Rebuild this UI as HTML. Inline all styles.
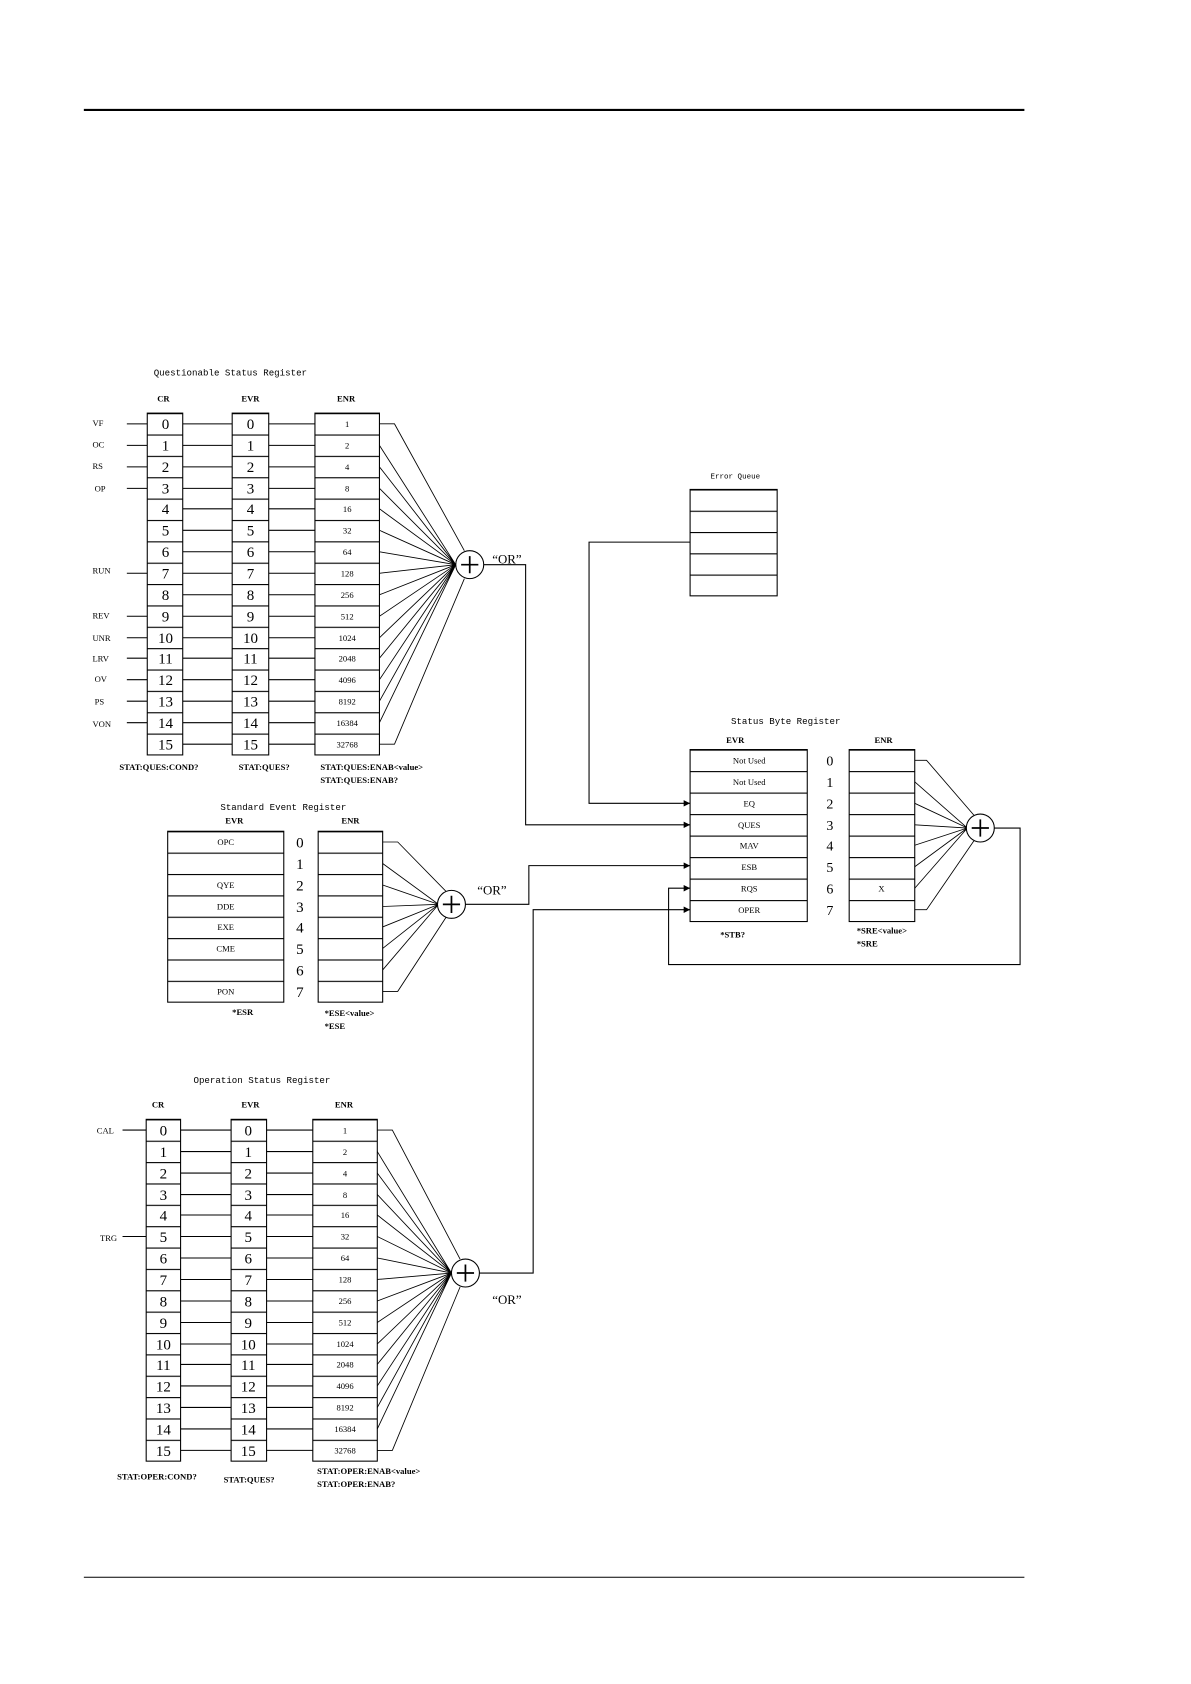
<!DOCTYPE html>
<html><head><meta charset="utf-8"><style>
html,body{margin:0;padding:0;background:#fff;}
svg{display:block}
text{font-family:"Liberation Serif",serif;fill:#000}
.n{font-size:14px;text-anchor:middle}
.s{font-size:8px;text-anchor:middle}
.l{font-size:8px}
.h{font-size:8px;font-weight:bold;text-anchor:middle}
.t{font-size:8.5px;font-family:"Liberation Mono",monospace}
.b{font-size:8px;font-weight:bold}
</style></head><body>
<svg width="1191" height="1684" viewBox="0 0 1108 1566" xmlns="http://www.w3.org/2000/svg">
<defs>
<pattern id="pq" patternUnits="userSpaceOnUse" x="0" y="384" width="1108" height="19.875"><line x1="0" y1="0.5" x2="1108" y2="0.5" stroke="#000" stroke-width="1"/></pattern>
<pattern id="po" patternUnits="userSpaceOnUse" x="0" y="1041" width="1108" height="19.875"><line x1="0" y1="0.5" x2="1108" y2="0.5" stroke="#000" stroke-width="1"/></pattern>
<pattern id="pe" patternUnits="userSpaceOnUse" x="0" y="773" width="1108" height="19.875"><line x1="0" y1="0.5" x2="1108" y2="0.5" stroke="#000" stroke-width="1"/></pattern>
<pattern id="pb" patternUnits="userSpaceOnUse" x="0" y="697" width="1108" height="20"><line x1="0" y1="0.5" x2="1108" y2="0.5" stroke="#000" stroke-width="1"/></pattern>
<pattern id="pz" patternUnits="userSpaceOnUse" x="0" y="455" width="1108" height="19.8"><line x1="0" y1="0.5" x2="1108" y2="0.5" stroke="#000" stroke-width="1"/></pattern>
<marker id="ar" markerWidth="6" markerHeight="6" refX="6" refY="3" orient="auto" markerUnits="userSpaceOnUse"><path d="M0,0 L6,3 L0,6 z" fill="#000"/></marker>
</defs>
<g stroke="#000" fill="none">
<line x1="78" y1="102" x2="953" y2="102" stroke-width="2"/>
<line x1="78" y1="1467" x2="953" y2="1467" stroke-width="1"/>
</g>

<!-- Questionable -->
<text class="t" x="143" y="349">Questionable Status Register</text>
<text class="h" x="152" y="373">CR</text><text class="h" x="233" y="373">EVR</text><text class="h" x="322" y="373">ENR</text>
<g stroke="#000" stroke-width="1">
<rect x="137" y="384" width="33" height="318" fill="url(#pq)"/>
<rect x="216" y="384" width="34" height="318" fill="url(#pq)"/>
<rect x="293" y="384" width="60" height="318" fill="url(#pq)"/>
<path fill="none" d="M118 394H137M118 414H137M118 434H137M118 454H137M118 533H137M118 573H137M118 593H137M118 612H137M118 632H137M118 652H137M118 672H137
M170 394H216M170 414H216M170 434H216M170 454H216M170 473H216M170 493H216M170 513H216M170 533H216M170 553H216M170 573H216M170 593H216M170 612H216M170 632H216M170 652H216M170 672H216M170 692H216
M250 394H293M250 414H293M250 434H293M250 454H293M250 473H293M250 493H293M250 513H293M250 533H293M250 553H293M250 573H293M250 593H293M250 612H293M250 632H293M250 652H293M250 672H293M250 692H293"/>
<path fill="none" stroke-width="0.8" d="M353 394H367L432 512M353 692H367L432 538M353 414L424 525M353 434L424 525M353 454L424 525M353 473L424 525M353 493L424 525M353 513L424 525M353 533L424 525M353 553L424 525M353 573L424 525M353 593L424 525M353 612L424 525M353 632L424 525M353 652L424 525M353 672L424 525"/>
<circle cx="437" cy="525" r="13" fill="#fff"/>
<path d="M437 517V533M429 525H445" stroke-width="1.6"/>
<path fill="none" d="M450 525H489V767H642" marker-end="url(#ar)"/>
</g>
<text class="l" x="86" y="396">VF</text><text class="l" x="86" y="416">OC</text><text class="l" x="86" y="436">RS</text><text class="l" x="88" y="457">OP</text>
<text class="l" x="86" y="533">RUN</text><text class="l" x="86" y="575">REV</text><text class="l" x="86" y="596">UNR</text><text class="l" x="86" y="615">LRV</text><text class="l" x="88" y="634">OV</text><text class="l" x="88" y="655">PS</text><text class="l" x="86" y="676">VON</text>
<g class="n">
<text class="n" x="154" y="399">0</text><text class="n" x="154" y="419">1</text><text class="n" x="154" y="439">2</text><text class="n" x="154" y="459">3</text><text class="n" x="154" y="478">4</text><text class="n" x="154" y="498">5</text><text class="n" x="154" y="518">6</text><text class="n" x="154" y="538">7</text><text class="n" x="154" y="558">8</text><text class="n" x="154" y="578">9</text><text class="n" x="154" y="598">10</text><text class="n" x="154" y="617">11</text><text class="n" x="154" y="637">12</text><text class="n" x="154" y="657">13</text><text class="n" x="154" y="677">14</text><text class="n" x="154" y="697">15</text>
<text class="n" x="233" y="399">0</text><text class="n" x="233" y="419">1</text><text class="n" x="233" y="439">2</text><text class="n" x="233" y="459">3</text><text class="n" x="233" y="478">4</text><text class="n" x="233" y="498">5</text><text class="n" x="233" y="518">6</text><text class="n" x="233" y="538">7</text><text class="n" x="233" y="558">8</text><text class="n" x="233" y="578">9</text><text class="n" x="233" y="598">10</text><text class="n" x="233" y="617">11</text><text class="n" x="233" y="637">12</text><text class="n" x="233" y="657">13</text><text class="n" x="233" y="677">14</text><text class="n" x="233" y="697">15</text>
</g>
<text class="s" x="323" y="397">1</text><text class="s" x="323" y="417">2</text><text class="s" x="323" y="437">4</text><text class="s" x="323" y="457">8</text><text class="s" x="323" y="476">16</text><text class="s" x="323" y="496">32</text><text class="s" x="323" y="516">64</text><text class="s" x="323" y="536">128</text><text class="s" x="323" y="556">256</text><text class="s" x="323" y="576">512</text><text class="s" x="323" y="596">1024</text><text class="s" x="323" y="615">2048</text><text class="s" x="323" y="635">4096</text><text class="s" x="323" y="655">8192</text><text class="s" x="323" y="675">16384</text><text class="s" x="323" y="695">32768</text>
<text x="458" y="524" style="font-size:12px">“OR”</text>
<text class="b" x="111" y="716">STAT:QUES:COND?</text><text class="b" x="222" y="716">STAT:QUES?</text>
<text class="b" x="298" y="716">STAT:QUES:ENAB&lt;value&gt;</text><text class="b" x="298" y="728">STAT:QUES:ENAB?</text>

<!-- Error queue -->
<text class="t" x="661" y="445" style="font-size:7px">Error Queue</text>
<rect x="642" y="455" width="81" height="99" fill="url(#pz)" stroke="#000"/>
<path d="M642 504H548V747H642" fill="none" stroke="#000" marker-end="url(#ar)"/>

<!-- Status Byte -->
<text class="t" x="680" y="673">Status Byte Register</text>
<text class="h" x="684" y="691">EVR</text><text class="h" x="822" y="691">ENR</text>
<g stroke="#000">
<rect x="642" y="697" width="109" height="160" fill="url(#pb)"/>
<rect x="790" y="697" width="61" height="160" fill="url(#pb)"/>
<path fill="none" stroke-width="0.8" d="M851 707H862L906 758M851 846H862L906 782M851 727L900 770M851 747L900 770M851 767L900 770M851 786L900 770M851 806L900 770M851 826L900 770"/>
<circle cx="912" cy="770" r="13" fill="#fff"/>
<path d="M912 762V778M904 770H920" stroke-width="1.6"/>
<path fill="none" d="M925 770H949V897H622V826H642" marker-end="url(#ar)"/>
</g>
<text class="s" x="697" y="710">Not Used</text><text class="s" x="697" y="730">Not Used</text><text class="s" x="697" y="750">EQ</text><text class="s" x="697" y="770">QUES</text><text class="s" x="697" y="789">MAV</text><text class="s" x="697" y="809">ESB</text><text class="s" x="697" y="829">RQS</text><text class="s" x="697" y="849">OPER</text>
<text class="n" x="772" y="712" style="font-size:13px">0</text><text class="n" x="772" y="732" style="font-size:13px">1</text><text class="n" x="772" y="752" style="font-size:13px">2</text><text class="n" x="772" y="772" style="font-size:13px">3</text><text class="n" x="772" y="791" style="font-size:13px">4</text><text class="n" x="772" y="811" style="font-size:13px">5</text><text class="n" x="772" y="831" style="font-size:13px">6</text><text class="n" x="772" y="851" style="font-size:13px">7</text>
<text class="s" x="820" y="829">X</text>
<text class="b" x="670" y="872">*STB?</text>
<text class="b" x="797" y="868">*SRE&lt;value&gt;</text><text class="b" x="797" y="880">*SRE</text>

<!-- Standard Event -->
<text class="t" x="205" y="753">Standard Event Register</text>
<text class="h" x="218" y="766">EVR</text><text class="h" x="326" y="766">ENR</text>
<g stroke="#000">
<rect x="156" y="773" width="108" height="159" fill="url(#pe)"/>
<rect x="296" y="773" width="60" height="159" fill="url(#pe)"/>
<path fill="none" stroke-width="0.8" d="M356 783H370L415 829M356 922H370L415 853M356 803L408 841M356 823L408 841M356 843L408 841M356 862L408 841M356 882L408 841M356 902L408 841"/>
<circle cx="420" cy="841" r="13" fill="#fff"/>
<path d="M420 833V849M412 841H428" stroke-width="1.6"/>
<path fill="none" d="M433 841H492V805H642" marker-end="url(#ar)"/>
</g>
<text class="s" x="210" y="786">OPC</text><text class="s" x="210" y="826">QYE</text><text class="s" x="210" y="846">DDE</text><text class="s" x="210" y="865">EXE</text><text class="s" x="210" y="885">CME</text><text class="s" x="210" y="925">PON</text>
<text class="n" x="279" y="788">0</text><text class="n" x="279" y="808">1</text><text class="n" x="279" y="828">2</text><text class="n" x="279" y="848">3</text><text class="n" x="279" y="867">4</text><text class="n" x="279" y="887">5</text><text class="n" x="279" y="907">6</text><text class="n" x="279" y="927">7</text>
<text x="444" y="832" style="font-size:12px">“OR”</text>
<text class="b" x="216" y="944">*ESR</text>
<text class="b" x="302" y="945">*ESE&lt;value&gt;</text><text class="b" x="302" y="957">*ESE</text>

<!-- Operation -->
<text class="t" x="180" y="1007">Operation Status Register</text>
<text class="h" x="147" y="1030">CR</text><text class="h" x="233" y="1030">EVR</text><text class="h" x="320" y="1030">ENR</text>
<g stroke="#000">
<rect x="136" y="1041" width="32" height="318" fill="url(#po)"/>
<rect x="215" y="1041" width="33" height="318" fill="url(#po)"/>
<rect x="291" y="1041" width="60" height="318" fill="url(#po)"/>
<path fill="none" d="M114 1051H136M114 1150H136
M168 1051H215M168 1071H215M168 1091H215M168 1111H215M168 1130H215M168 1150H215M168 1170H215M168 1190H215M168 1210H215M168 1230H215M168 1250H215M168 1269H215M168 1289H215M168 1309H215M168 1329H215M168 1349H215
M248 1051H291M248 1071H291M248 1091H291M248 1111H291M248 1130H291M248 1150H291M248 1170H291M248 1190H291M248 1210H291M248 1230H291M248 1250H291M248 1269H291M248 1289H291M248 1309H291M248 1329H291M248 1349H291"/>
<path fill="none" stroke-width="0.8" d="M351 1051H365L428 1171M351 1349H365L428 1197M351 1071L420 1184M351 1091L420 1184M351 1111L420 1184M351 1130L420 1184M351 1150L420 1184M351 1170L420 1184M351 1190L420 1184M351 1210L420 1184M351 1230L420 1184M351 1250L420 1184M351 1269L420 1184M351 1289L420 1184M351 1309L420 1184M351 1329L420 1184"/>
<circle cx="433" cy="1184" r="13" fill="#fff"/>
<path d="M433 1176V1192M425 1184H441" stroke-width="1.6"/>
<path fill="none" d="M446 1184H496V846H642" marker-end="url(#ar)"/>
</g>
<text class="l" x="90" y="1054">CAL</text><text class="l" x="93" y="1154">TRG</text>
<text class="n" x="152" y="1056">0</text><text class="n" x="152" y="1076">1</text><text class="n" x="152" y="1096">2</text><text class="n" x="152" y="1116">3</text><text class="n" x="152" y="1135">4</text><text class="n" x="152" y="1155">5</text><text class="n" x="152" y="1175">6</text><text class="n" x="152" y="1195">7</text><text class="n" x="152" y="1215">8</text><text class="n" x="152" y="1235">9</text><text class="n" x="152" y="1255">10</text><text class="n" x="152" y="1274">11</text><text class="n" x="152" y="1294">12</text><text class="n" x="152" y="1314">13</text><text class="n" x="152" y="1334">14</text><text class="n" x="152" y="1354">15</text>
<text class="n" x="231" y="1056">0</text><text class="n" x="231" y="1076">1</text><text class="n" x="231" y="1096">2</text><text class="n" x="231" y="1116">3</text><text class="n" x="231" y="1135">4</text><text class="n" x="231" y="1155">5</text><text class="n" x="231" y="1175">6</text><text class="n" x="231" y="1195">7</text><text class="n" x="231" y="1215">8</text><text class="n" x="231" y="1235">9</text><text class="n" x="231" y="1255">10</text><text class="n" x="231" y="1274">11</text><text class="n" x="231" y="1294">12</text><text class="n" x="231" y="1314">13</text><text class="n" x="231" y="1334">14</text><text class="n" x="231" y="1354">15</text>
<text class="s" x="321" y="1054">1</text><text class="s" x="321" y="1074">2</text><text class="s" x="321" y="1094">4</text><text class="s" x="321" y="1114">8</text><text class="s" x="321" y="1133">16</text><text class="s" x="321" y="1153">32</text><text class="s" x="321" y="1173">64</text><text class="s" x="321" y="1193">128</text><text class="s" x="321" y="1213">256</text><text class="s" x="321" y="1233">512</text><text class="s" x="321" y="1253">1024</text><text class="s" x="321" y="1272">2048</text><text class="s" x="321" y="1292">4096</text><text class="s" x="321" y="1312">8192</text><text class="s" x="321" y="1332">16384</text><text class="s" x="321" y="1352">32768</text>
<text x="458" y="1213" style="font-size:12px">“OR”</text>
<text class="b" x="109" y="1376">STAT:OPER:COND?</text><text class="b" x="208" y="1379">STAT:QUES?</text>
<text class="b" x="295" y="1371">STAT:OPER:ENAB&lt;value&gt;</text><text class="b" x="295" y="1383">STAT:OPER:ENAB?</text>
</svg>
</body></html>
